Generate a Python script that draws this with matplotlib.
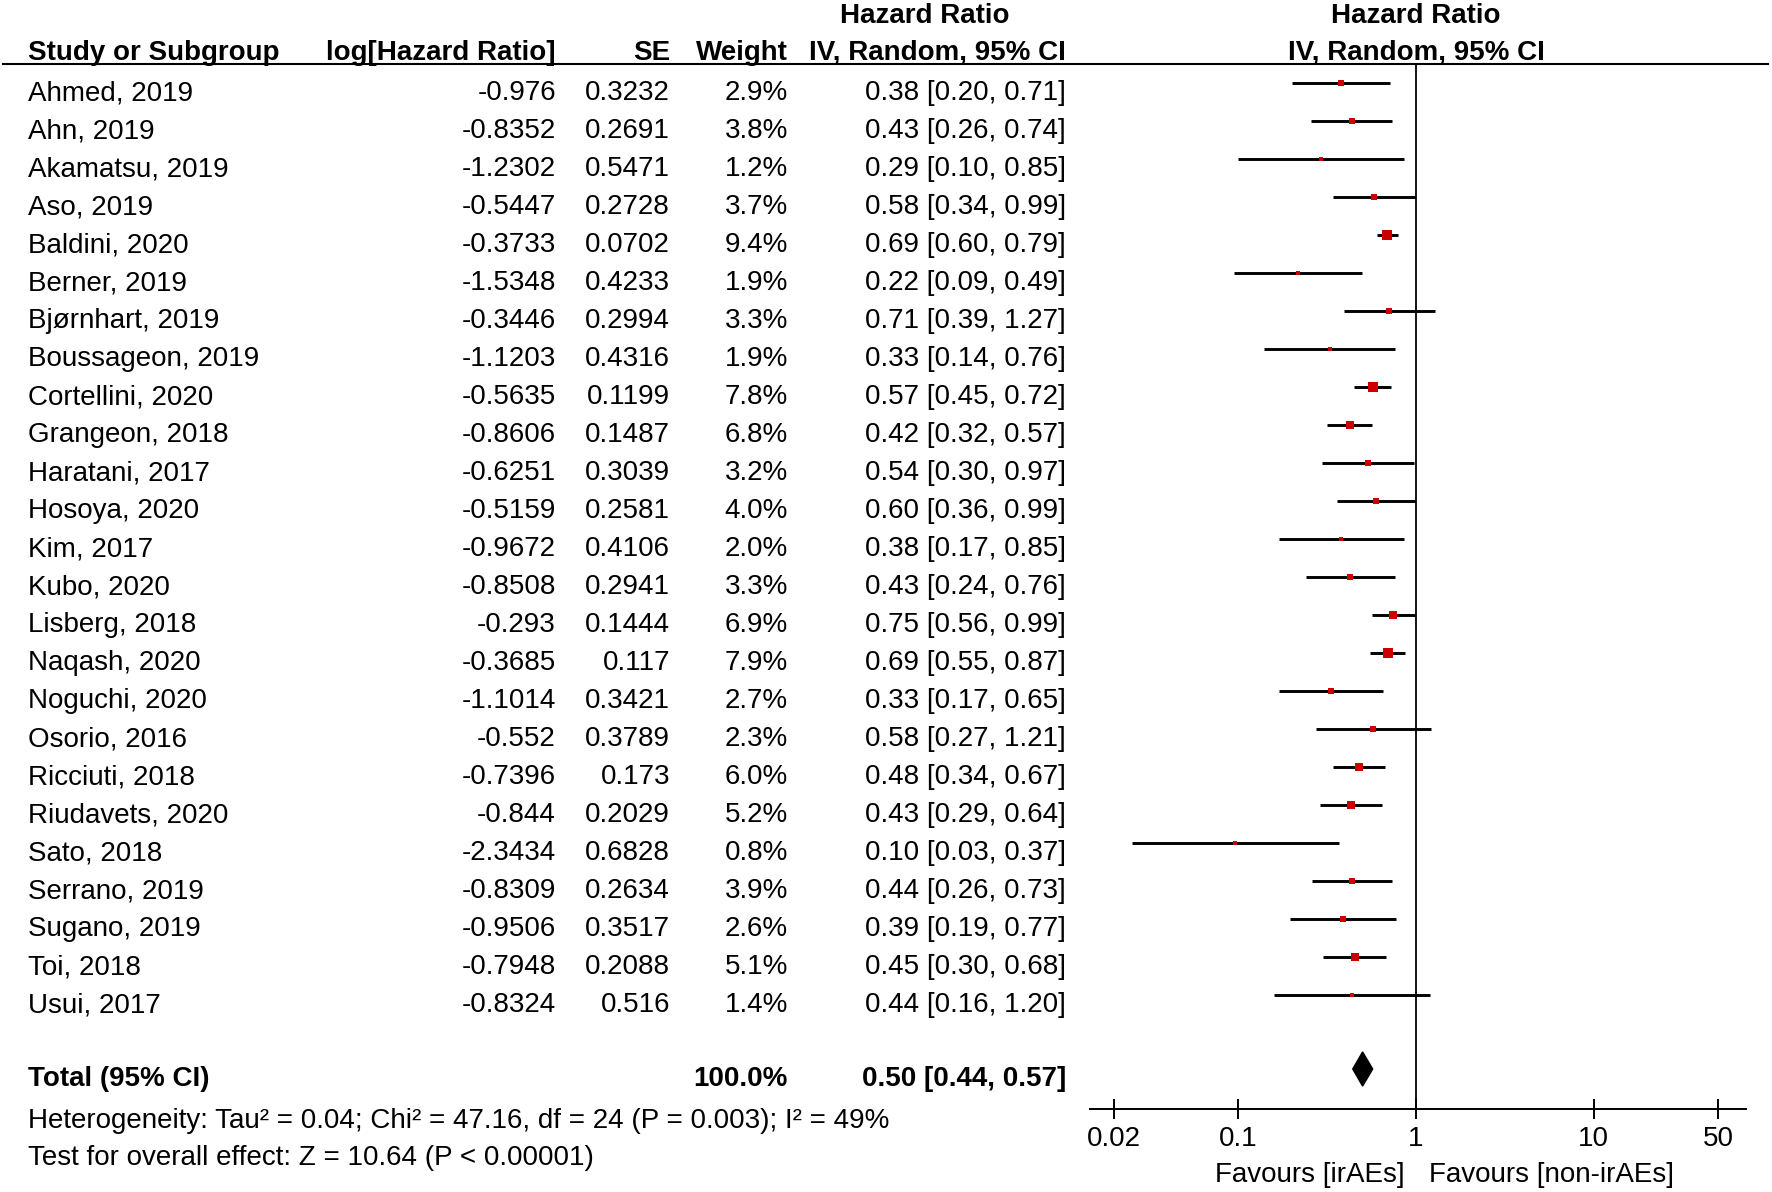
import numpy as np
import matplotlib
matplotlib.use("Agg")
import matplotlib.pyplot as plt
from matplotlib.lines import Line2D
from matplotlib.patches import Polygon

plt.rcParams["font.family"] = ["Liberation Sans", "DejaVu Sans"]

# data
studies = ["Ahmed, 2019", "Ahn, 2019", "Akamatsu, 2019", "Aso, 2019", "Baldini, 2020",
           "Berner, 2019", "Bjørnhart, 2019", "Boussageon, 2019", "Cortellini, 2020",
           "Grangeon, 2018", "Haratani, 2017", "Hosoya, 2020", "Kim, 2017", "Kubo, 2020",
           "Lisberg, 2018", "Naqash, 2020", "Noguchi, 2020", "Osorio, 2016", "Ricciuti, 2018",
           "Riudavets, 2020", "Sato, 2018", "Serrano, 2019", "Sugano, 2019", "Toi, 2018",
           "Usui, 2017"]
log_hr = [-0.976, -0.8352, -1.2302, -0.5447, -0.3733, -1.5348, -0.3446, -1.1203, -0.5635,
          -0.8606, -0.6251, -0.5159, -0.9672, -0.8508, -0.293, -0.3685, -1.1014, -0.552,
          -0.7396, -0.844, -2.3434, -0.8309, -0.9506, -0.7948, -0.8324]
se = [0.3232, 0.2691, 0.5471, 0.2728, 0.0702, 0.4233, 0.2994, 0.4316, 0.1199, 0.1487,
      0.3039, 0.2581, 0.4106, 0.2941, 0.1444, 0.117, 0.3421, 0.3789, 0.173, 0.2029,
      0.6828, 0.2634, 0.3517, 0.2088, 0.516]
weight = [2.9, 3.8, 1.2, 3.7, 9.4, 1.9, 3.3, 1.9, 7.8, 6.8, 3.2, 4.0, 2.0, 3.3, 6.9, 7.9,
          2.7, 2.3, 6.0, 5.2, 0.8, 3.9, 2.6, 5.1, 1.4]
hr = [0.38, 0.43, 0.29, 0.58, 0.69, 0.22, 0.71, 0.33, 0.57, 0.42, 0.54, 0.60, 0.38, 0.43,
      0.75, 0.69, 0.33, 0.58, 0.48, 0.43, 0.10, 0.44, 0.39, 0.45, 0.44]
ci_low = [0.20, 0.26, 0.10, 0.34, 0.60, 0.09, 0.39, 0.14, 0.45, 0.32, 0.30, 0.36, 0.17, 0.24,
          0.56, 0.55, 0.17, 0.27, 0.34, 0.29, 0.03, 0.26, 0.19, 0.30, 0.16]
ci_high = [0.71, 0.74, 0.85, 0.99, 0.79, 0.49, 1.27, 0.76, 0.72, 0.57, 0.97, 0.99, 0.85, 0.76,
           0.99, 0.87, 0.65, 1.21, 0.67, 0.64, 0.37, 0.73, 0.77, 0.68, 1.20]
total_hr, total_low, total_high = 0.50, 0.44, 0.57
xticks = [0.02, 0.1, 1, 10, 50]
xtick_labels = ["0.02", "0.1", "1", "10", "50"]

W, H = 1772, 1192
fig = plt.figure(figsize=(W / 100, H / 100), dpi=100)
fs = 20

def fx(px):
    return px / W

def fy(py):
    return 1 - py / H

# forest axes: spans from header rule (y=64px) to axis line (y=1109px)
ax = fig.add_axes([fx(1090), fy(1109), fx(1746) - fx(1090), (1109 - 64) / H])
ax.set_xscale("log")
ax.set_xlim(0.0146, 72)
row0, step = 83, 38     # plot rows sit a little above the text rows
ax.set_ylim((1109 - row0) / step, (64 - row0) / step)

n = len(studies)
ys = np.arange(n)
lhr = np.array(log_hr)
s = np.array(se)
ax.hlines(ys, np.exp(lhr - 1.96 * s), np.exp(lhr + 1.96 * s), color="black", lw=2.1)
for y, l, w in zip(ys, lhr, weight):
    side = max(3.3 * np.sqrt(w), 4.5) / 1.389
    ax.plot(np.exp(l), y, marker="s", ms=side, color="#cc0000", mec="#cc0000", mew=0)
ax.axvline(1, color="black", lw=1.3)

total_y = (1069 - row0) / step
dh = 0.45
ax.add_patch(Polygon([(total_low, total_y), (total_hr, total_y - dh),
                      (total_high, total_y), (total_hr, total_y + dh)],
                     closed=True, color="black"))

for side_ in ["top", "left", "right"]:
    ax.spines[side_].set_visible(False)
ax.spines["bottom"].set_linewidth(1.4)
ax.set_yticks([])
ax.set_xticks(xticks)
ax.set_xticklabels(xtick_labels)
ax.minorticks_off()
ax.tick_params(axis="x", direction="inout", length=15, width=1.4, labelsize=fs, pad=5)
ax.patch.set_visible(False)

# header rule across the whole figure
fig.add_artist(Line2D([fx(3), fx(1768)], [fy(64), fy(64)], color="black", lw=1.5,
                      transform=fig.transFigure))

# headers
hy1, hy2 = fy(16), fy(53)
fig.text(fx(28), hy2, "Study or Subgroup", fontsize=fs, weight="bold", va="center")
fig.text(fx(556), hy2, "log[Hazard Ratio]", fontsize=fs, weight="bold", va="center", ha="right")
fig.text(fx(670), hy2, "SE", fontsize=fs, weight="bold", va="center", ha="right")
fig.text(fx(788), hy2, "Weight", fontsize=fs, weight="bold", va="center", ha="right")
fig.text(fx(925), hy1, "Hazard Ratio", fontsize=fs, weight="bold", va="center", ha="center")
fig.text(fx(1066), hy2, "IV, Random, 95% CI", fontsize=fs, weight="bold", va="center", ha="right")
fig.text(fx(1416), hy1, "Hazard Ratio", fontsize=fs, weight="bold", va="center", ha="center")
fig.text(fx(1416), hy2, "IV, Random, 95% CI", fontsize=fs, weight="bold", va="center", ha="center")

# table rows
trow0 = 93
for i in range(n):
    y = fy(trow0 + step * i)
    fig.text(fx(28), y, studies[i], fontsize=fs, va="center")
    fig.text(fx(556), y, str(log_hr[i]), fontsize=fs, va="center", ha="right")
    fig.text(fx(670), y, str(se[i]), fontsize=fs, va="center", ha="right")
    fig.text(fx(788), y, f"{weight[i]:.1f}%", fontsize=fs, va="center", ha="right")
    fig.text(fx(1066), y, f"{hr[i]:.2f} [{ci_low[i]:.2f}, {ci_high[i]:.2f}]",
             fontsize=fs, va="center", ha="right")

ty = fy(1079)
fig.text(fx(28), ty, "Total (95% CI)", fontsize=fs, weight="bold", va="center")
fig.text(fx(788), ty, "100.0%", fontsize=fs, weight="bold", va="center", ha="right")
fig.text(fx(1066), ty, f"{total_hr:.2f} [{total_low:.2f}, {total_high:.2f}]",
         fontsize=fs, weight="bold", va="center", ha="right")
fig.text(fx(28), fy(1121),
         "Heterogeneity: Tau² = 0.04; Chi² = 47.16, df = 24 (P = 0.003); I² = 49%",
         fontsize=fs, va="center")
fig.text(fx(28), fy(1158), "Test for overall effect: Z = 10.64 (P < 0.00001)",
         fontsize=fs, va="center")

fig.text(fx(1405), fy(1175), "Favours [irAEs]", fontsize=fs, va="center", ha="right")
fig.text(fx(1429), fy(1175), "Favours [non-irAEs]", fontsize=fs, va="center", ha="left")

fig.savefig("out.png", dpi=100)
